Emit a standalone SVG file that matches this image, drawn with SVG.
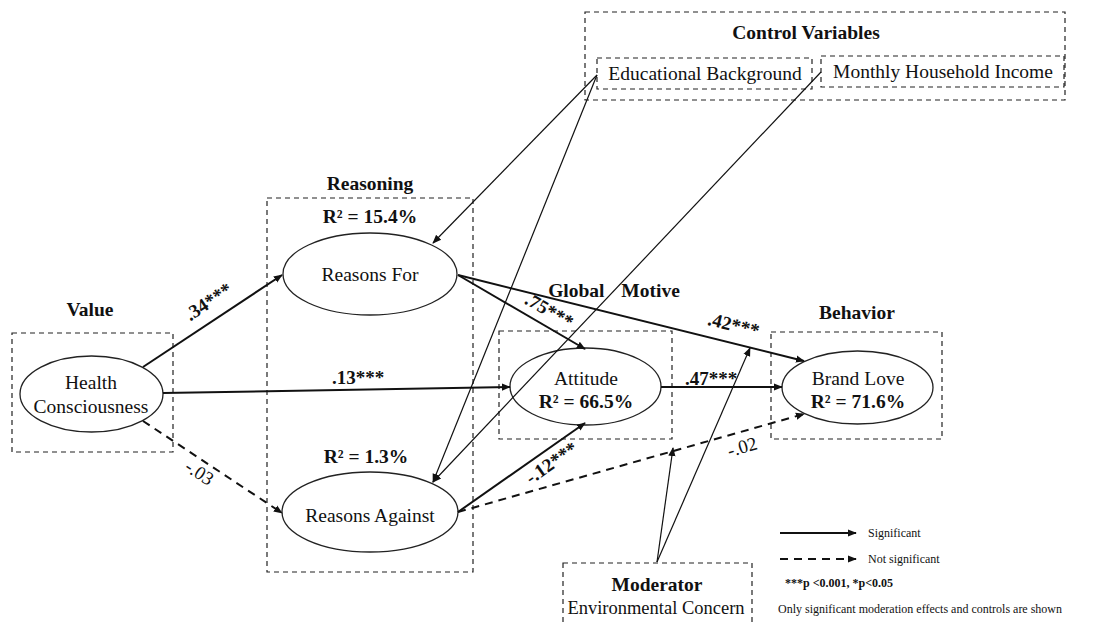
<svg xmlns="http://www.w3.org/2000/svg" width="1111" height="622" viewBox="0 0 1111 622">
<style>
text{font-family:"Liberation Serif","Times New Roman",serif;fill:#111;}
.t{font-size:19.5px;text-anchor:middle;}
.b{font-size:19.5px;font-weight:bold;text-anchor:middle;}
.lbl{font-size:19px;font-weight:bold;text-anchor:middle;}
.nl{font-size:19px;text-anchor:middle;}
.box{fill:none;stroke:#222;stroke-width:1.2;stroke-dasharray:5,4;}
.ell{fill:#fff;stroke:#222;stroke-width:1.3;}
.s{fill:none;stroke:#111;stroke-width:2;}
.thin{fill:none;stroke:#111;stroke-width:1.2;}
.d{fill:none;stroke:#111;stroke-width:2;stroke-dasharray:8,6;}
.lg{font-size:12px;}
</style>
<defs>
<marker id="ah" viewBox="0 0 10 10" refX="9" refY="5" markerWidth="9" markerHeight="9" markerUnits="userSpaceOnUse" orient="auto">
<path d="M0,1 L10,5 L0,9 z" fill="#111"/>
</marker>
</defs>

<g id="control-variables">
<rect class="box" x="585" y="12" width="480" height="88"/>
<text class="b" x="806" y="39">Control Variables</text>
</g>
<g id="educational-background">
<rect class="box" x="597" y="58" width="215" height="31"/>
<text class="t" x="705" y="80">Educational Background</text>
</g>
<g id="monthly-income">
<rect class="box" x="821" y="56" width="243" height="31"/>
<text class="t" x="943" y="78">Monthly Household Income</text>
</g>

<g id="value">
<text class="b" x="90" y="316">Value</text>
<rect class="box" x="12" y="333" width="161" height="119"/>
<ellipse class="ell" cx="91.5" cy="394" rx="71.5" ry="38"/>
<text class="t" x="91" y="389">Health</text>
<text class="t" x="91" y="413">Consciousness</text>
</g>

<g id="reasoning">
<text class="b" x="370" y="190">Reasoning</text>
<rect class="box" x="267" y="198" width="206" height="374"/>
</g>
<g id="reasons-for">
<text class="b" x="370" y="223">R² = 15.4%</text>
<ellipse class="ell" cx="370" cy="274" rx="87" ry="41"/>
<text class="t" x="370" y="281">Reasons For</text>
</g>
<g id="reasons-against">
<text class="b" x="366" y="463">R² = 1.3%</text>
<ellipse class="ell" cx="370" cy="512" rx="88" ry="40"/>
<text class="t" x="370" y="522">Reasons Against</text>
</g>

<g id="global-motive">
<text class="b" x="614" y="297" word-spacing="12">Global Motive</text>
<rect class="box" x="499" y="331" width="173" height="108"/>
<ellipse class="ell" cx="585.5" cy="386.5" rx="75.5" ry="38.5"/>
<text class="t" x="586" y="385">Attitude</text>
<text class="b" x="586" y="408">R² = 66.5%</text>
</g>

<g id="behavior">
<text class="b" x="857" y="319">Behavior</text>
<rect class="box" x="771" y="332" width="171" height="107"/>
<ellipse class="ell" cx="857.5" cy="387.5" rx="75.5" ry="36.5"/>
<text class="t" x="858" y="385">Brand Love</text>
<text class="b" x="858" y="408">R² = 71.6%</text>
</g>

<g id="moderator">
<rect class="box" x="563" y="563" width="189" height="70"/>
<text class="b" x="657" y="591">Moderator</text>
<text class="t" x="656" y="614" style="font-size:18.5px">Environmental Concern</text>
</g>

<g id="connectors">
<line class="s" x1="143" y1="367" x2="282" y2="275" marker-end="url(#ah)"/>
<line class="s" x1="163" y1="393" x2="510" y2="387" marker-end="url(#ah)"/>
<line class="d" x1="143" y1="421" x2="282" y2="513" marker-end="url(#ah)"/>
<line class="s" x1="458" y1="275" x2="585" y2="349" marker-end="url(#ah)"/>
<line class="s" x1="458" y1="275" x2="804" y2="361" marker-end="url(#ah)"/>
<line class="s" x1="661" y1="387" x2="782" y2="387" marker-end="url(#ah)"/>
<line class="s" x1="458" y1="512" x2="585" y2="423" marker-end="url(#ah)"/>
<line class="d" x1="458" y1="512" x2="804" y2="414" marker-end="url(#ah)"/>
<line class="thin" x1="597" y1="75" x2="433" y2="243" marker-end="url(#ah)"/>
<line class="thin" x1="597" y1="75" x2="433" y2="482" marker-end="url(#ah)"/>
<line class="thin" x1="821" y1="72" x2="433" y2="482" marker-end="url(#ah)"/>
<line class="thin" x1="657" y1="562" x2="673" y2="448" marker-end="url(#ah)"/>
<line class="thin" x1="657" y1="562" x2="750" y2="348" marker-end="url(#ah)"/>
</g>

<g id="path-labels">
<text class="lbl" transform="translate(212,307) rotate(-33.5)">.34***</text>
<text class="lbl" x="358" y="384">.13***</text>
<text class="nl" transform="translate(196,478) rotate(33.5)">-.03</text>
<text class="lbl" transform="translate(546,316) rotate(30)">.75***</text>
<text class="lbl" transform="translate(732,331) rotate(14)">.42***</text>
<text class="lbl" x="711" y="385">.47***</text>
<text class="lbl" transform="translate(555,468) rotate(-35)">-.12***</text>
<text class="nl" transform="translate(744,453) rotate(-16)">-.02</text>
</g>

<g id="legend">
<line class="s" x1="780" y1="533" x2="856" y2="533" marker-end="url(#ah)"/>
<text class="lg" x="868" y="537">Significant</text>
<line class="d" x1="780" y1="559" x2="856" y2="559" marker-end="url(#ah)"/>
<text class="lg" x="868" y="563">Not significant</text>
<text class="lg" x="785" y="587" font-weight="bold">***p &lt;0.001, *p&lt;0.05</text>
<text class="lg" x="778" y="613">Only significant moderation effects and controls are shown</text>
</g>
</svg>
